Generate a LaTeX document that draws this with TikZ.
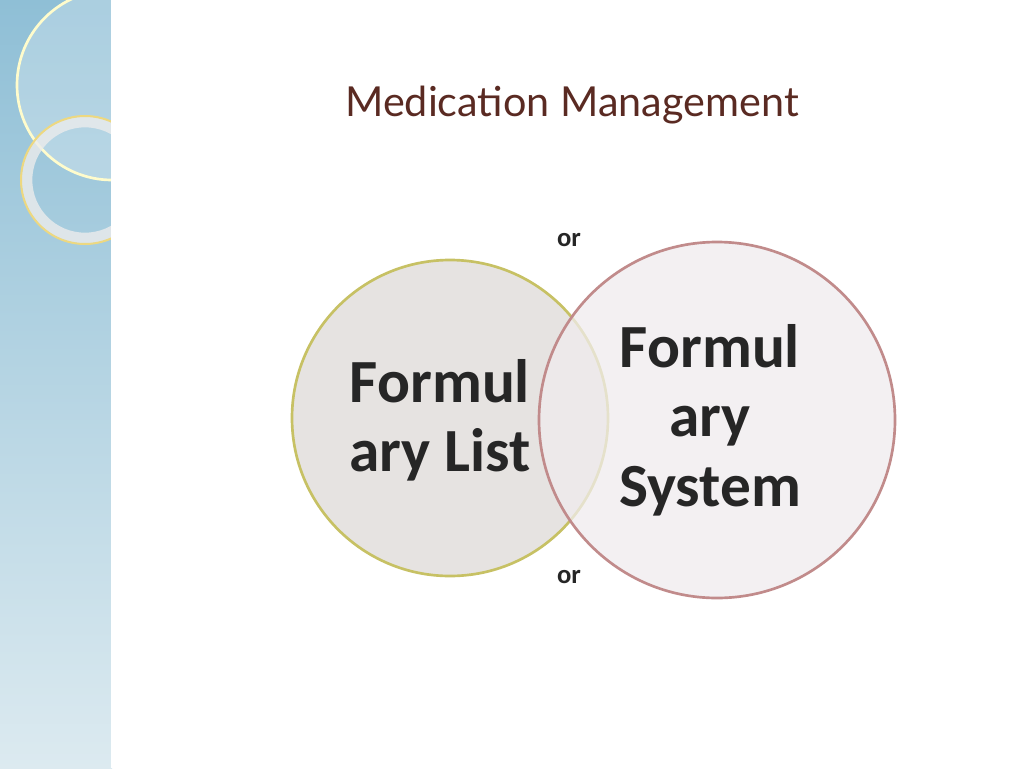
\documentclass[tikz,border=0pt]{standalone}
\usepackage{fontspec}
\setmainfont{Carlito}
\newfontfamily\titlefont{Lato}
\definecolor{titlec}{HTML}{5A2A22}
\definecolor{sbtop}{HTML}{8FBFD6}
\definecolor{sbbot}{HTML}{DCEAF0}
\begin{document}
\begin{tikzpicture}[x=0.75pt,y=-0.75pt,
  lbl/.style={font=\bfseries\fontsize{46}{52}\selectfont,align=center,text=black!85},
  ortext/.style={font=\bfseries\fontsize{20}{22}\selectfont,text=black!85}]
\useasboundingbox (0,0) rectangle (1024,768);
\fill[white] (0,0) rectangle (1024,768);
\shade[top color=sbtop, bottom color=sbbot] (0,0) rectangle (112,768);
\begin{scope}
\clip (0,0) rectangle (112,768);
\fill[white,opacity=0.25] (112,85) circle[radius=95];
\draw[yellow!20!white,line width=2pt] (112,85) circle[radius=95];
\draw[white!85!gray,line width=8pt,opacity=0.8] (85,180) circle[radius=58];
\draw[yellow!50!brown!60!white,line width=1.5pt] (85,180) circle[radius=64];
\end{scope}
\draw[white,line width=1.5pt] (112,0) -- (112,768);
\node[circle,minimum size=237,inner sep=0,fill=brown!20!gray!25,fill opacity=0.85,draw=olive!50!white,line width=2pt] (L) at (450,418) {};
\node[circle,minimum size=267,inner sep=0,fill=magenta!10!gray!15,fill opacity=0.75,draw=red!30!gray!70,line width=2pt] (R) at (717,420) {};
\node[lbl] (lt) at (440,420) {Formul\\ary List};
\node[lbl] (rt) at (710,420) {Formul\\ary\\System};
\node[ortext] (o1) at (569,240) {or};
\node[ortext] (o2) at (569,577) {or};
\node[font=\titlefont\fontsize{31}{34}\selectfont,text=titlec] (t) at (572,105) {Medication Management};
\end{tikzpicture}
\end{document}
